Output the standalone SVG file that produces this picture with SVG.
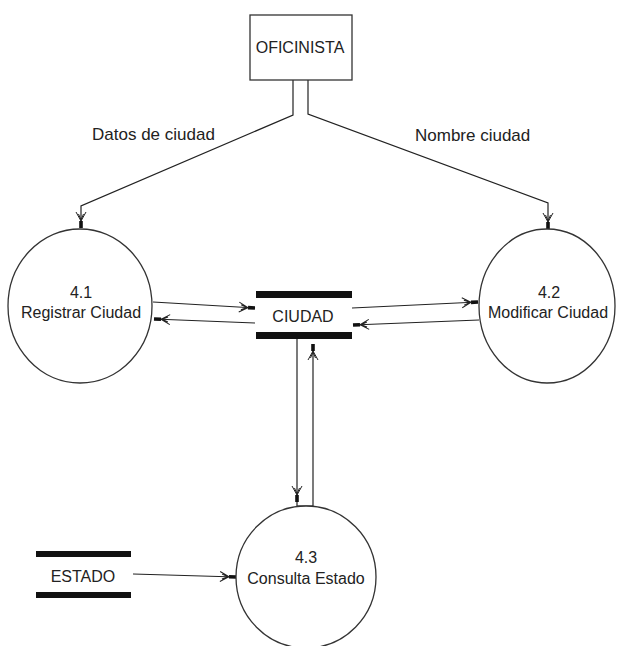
<svg xmlns="http://www.w3.org/2000/svg" width="617" height="646" viewBox="0 0 617 646">
<style>
  .ln{fill:none;stroke:#222;stroke-width:1.2}
  .node{fill:#fff;stroke:#333;stroke-width:1.3}
  .bar{fill:#111;stroke:none}
  .t{font-family:"Liberation Sans",Arial,sans-serif;font-size:16px;fill:#222;text-anchor:middle}
  .lbl{font-family:"Liberation Sans",Arial,sans-serif;font-size:17px;fill:#222}
</style>
<defs>
  <marker id="arr" markerUnits="userSpaceOnUse" viewBox="-18 -7 19 14" refX="0" refY="0" markerWidth="19" markerHeight="14" orient="auto">
    <rect x="-7" y="-1.8" width="7" height="3.6" fill="#111"/>
    <path d="M-16,-5 L-7,0 L-16,5 M-14,-2.5 L-8,0 L-14,2.5" fill="none" stroke="#222" stroke-width="1"/>
  </marker>
</defs>
<rect width="617" height="646" fill="#fff"/>

<g id="connectors">
  <path class="ln" d="M293,80 V115 L81,206 V228" marker-end="url(#arr)"/>
  <path class="ln" d="M308,80 V114 L548,203 V229" marker-end="url(#arr)"/>
  <path class="ln" d="M153,302 L255,308" marker-end="url(#arr)"/>
  <path class="ln" d="M255,323 L154,319" marker-end="url(#arr)"/>
  <path class="ln" d="M352,308 L478,302" marker-end="url(#arr)"/>
  <path class="ln" d="M479,320 L353,325" marker-end="url(#arr)"/>
  <path class="ln" d="M297,339 V502" marker-end="url(#arr)"/>
  <path class="ln" d="M297,502 V506 H313" />
  <path class="ln" d="M313,506 V344" marker-end="url(#arr)"/>
  <path class="ln" d="M133,574 L236,577" marker-end="url(#arr)"/>
  <text class="lbl" x="92" y="140">Datos de ciudad</text>
  <text class="lbl" x="415" y="141">Nombre ciudad</text>
</g>

<g id="oficinista">
  <rect class="node" x="250" y="15" width="102" height="65"/>
  <text class="t" x="300" y="53">OFICINISTA</text>
</g>

<g id="p41">
  <ellipse class="node" cx="80" cy="306" rx="72" ry="77"/>
  <text class="t" x="81" y="298">4.1</text>
  <text class="t" x="81" y="318">Registrar Ciudad</text>
</g>

<g id="p42">
  <ellipse class="node" cx="547" cy="306" rx="68" ry="77"/>
  <text class="t" x="549" y="298">4.2</text>
  <text class="t" x="548" y="318">Modificar Ciudad</text>
</g>

<g id="p43">
  <ellipse class="node" cx="306" cy="577" rx="70" ry="71"/>
  <text class="t" x="306" y="563">4.3</text>
  <text class="t" x="306" y="584">Consulta Estado</text>
</g>

<g id="ciudad">
  <rect class="bar" x="256" y="291" width="96" height="7"/>
  <rect class="bar" x="256" y="332" width="96" height="7"/>
  <text class="t" x="303" y="322">CIUDAD</text>
</g>

<g id="estado">
  <rect class="bar" x="36" y="551" width="95" height="6"/>
  <rect class="bar" x="36" y="592" width="95" height="6"/>
  <text class="t" x="83" y="582">ESTADO</text>
</g>
</svg>
